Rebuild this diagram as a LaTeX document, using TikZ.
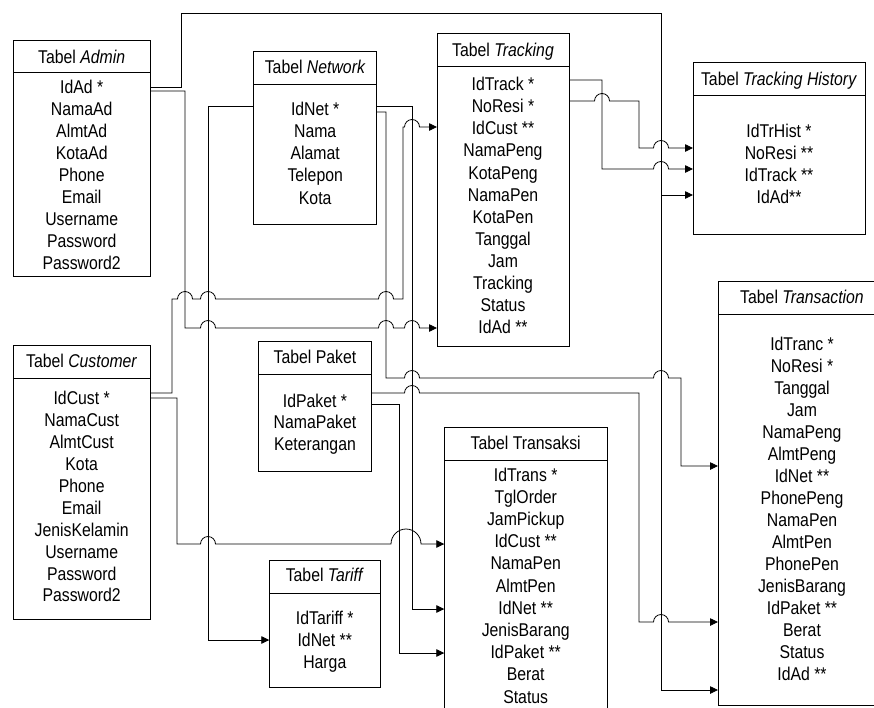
\documentclass[tikz,border=0pt]{standalone}
\usepackage{fontspec}
\setmainfont{Liberation Sans}
\usetikzlibrary{arrows.meta}
\newcommand{\tx}[1]{\scalebox{1}[1.17]{#1}}
\newcommand{\tblrows}[5]{\foreach \t [count=\i from 0] in {#5} {\node[row] (#1-\i) at (#2,{#3+#4*\i}) {\tx{\t}};}}
\newcommand{\hop}[2]{-- ({#1-7.5},#2) arc[start angle=180,end angle=0,radius=7.5pt]}
\begin{document}
\begin{tikzpicture}[x=1pt,y=-1pt,
  tbox/.style={draw, line width=0.9pt, inner sep=0pt, outer sep=0pt, anchor=north west},
  row/.style={anchor=base, inner sep=0pt, font=\fontsize{15.8}{19}\selectfont},
  conn/.style={line width=0.8pt},
  arr/.style={conn, -{Triangle[length=8pt,width=7.5pt]}}]
\useasboundingbox (0,0) rectangle (874,707);
\clip (0,0) rectangle (874,707);

% ---------- tables ----------
% Admin
\node[tbox, minimum width=136.7pt, minimum height=236.7pt] (adm) at (13.3,40) {};
\draw[line width=0.9pt] (adm.west |- 0,72.7) -- (adm.east |- 0,72.7);
\node[row] (admT) at (81.7,63) {\tx{Tabel \textit{Admin}}};
\tblrows{adm}{81.7}{93}{22}{IdAd *,NamaAd,AlmtAd,KotaAd,Phone,Email,Username,Password,Password2}

% Network
\node[tbox, minimum width=123pt, minimum height=173.3pt] (net) at (253.7,51) {};
\draw[line width=0.9pt] (net.west |- 0,84) -- (net.east |- 0,84);
\node[row] (netT) at (315.2,73) {\tx{Tabel \textit{Network}}};
\tblrows{net}{315.2}{115.6}{22.1}{IdNet *,Nama,Alamat,Telepon,Kota}

% Tracking
\node[tbox, minimum width=132pt, minimum height=312.7pt] (trk) at (437,33.3) {};
\draw[line width=0.9pt] (trk.west |- 0,66.3) -- (trk.east |- 0,66.3);
\node[row] (trkT) at (503,56.3) {\tx{Tabel \textit{Tracking}}};
\tblrows{trk}{503}{90.6}{22.1}{IdTrack *,NoResi *,IdCust **,NamaPeng,KotaPeng,NamaPen,KotaPen,Tanggal,Jam,Tracking,Status,IdAd **}

% Tracking History
\node[tbox, minimum width=172pt, minimum height=171.7pt] (th) at (693,62.3) {};
\draw[line width=0.9pt] (th.west |- 0,95.7) -- (th.east |- 0,95.7);
\node[row] (thT) at (779,85.3) {\tx{Tabel \textit{Tracking History}}};
\tblrows{th}{779}{137}{22.2}{IdTrHist *,NoResi **,IdTrack **,IdAd**}

% Transaction
\node[tbox, minimum width=168pt, minimum height=424.5pt] (tn) at (718,281) {};
\draw[line width=0.9pt] (tn.west |- 0,314) -- (tn.east |- 0,314);
\node[row] (tnT) at (802,303) {\tx{Tabel \textit{Transaction}}};
\tblrows{tn}{802}{350.3}{22.02}{IdTranc *,NoResi *,Tanggal,Jam,NamaPeng,AlmtPeng,IdNet **,PhonePeng,NamaPen,AlmtPen,PhonePen,JenisBarang,IdPaket **,Berat,Status,IdAd **}

% Customer
\node[tbox, minimum width=136.7pt, minimum height=273.7pt] (cus) at (13.3,345.3) {};
\draw[line width=0.9pt] (cus.west |- 0,378.3) -- (cus.east |- 0,378.3);
\node[row] (cusT) at (81.7,367) {\tx{Tabel \textit{Customer}}};
\tblrows{cus}{81.7}{404.6}{21.93}{IdCust *,NamaCust,AlmtCust,Kota,Phone,Email,JenisKelamin,Username,Password,Password2}

% Paket
\node[tbox, minimum width=113.4pt, minimum height=130.7pt] (pak) at (258.3,341) {};
\draw[line width=0.9pt] (pak.west |- 0,374.3) -- (pak.east |- 0,374.3);
\node[row] (pakT) at (315,363.6) {\tx{Tabel Paket}};
\tblrows{pak}{315}{407}{21.8}{IdPaket *,NamaPaket,Keterangan}

% Tariff
\node[tbox, minimum width=111pt, minimum height=127.3pt] (trf) at (269.3,560) {};
\draw[line width=0.9pt] (trf.west |- 0,593.3) -- (trf.east |- 0,593.3);
\node[row] (trfT) at (324.8,581.6) {\tx{Tabel \textit{Tariff}}};
\tblrows{trf}{324.8}{624.6}{21.7}{IdTariff *,IdNet **,Harga}

% Transaksi
\node[tbox, minimum width=162.7pt, minimum height=300pt] (tsk) at (444.3,427) {};
\draw[line width=0.9pt] (tsk.west |- 0,460.3) -- (tsk.east |- 0,460.3);
\node[row] (tskT) at (525.7,449) {\tx{Tabel Transaksi}};
\tblrows{tsk}{525.7}{481.3}{22.17}{IdTrans *,TglOrder,JamPickup,IdCust **,NamaPen,AlmtPen,IdNet **,JenisBarang,IdPaket **,Berat,Status}

% ---------- connectors ----------
\coordinate (jAd) at (661,195);
% Admin IdAd -> Tracking History IdAd, Transaction IdAd
\draw[arr] (adm.east |- 0,87) -- (181,87) -- (181,13) -- (661,13) -- (jAd) -- (th.west |- jAd);
\draw[arr] (jAd) -- (661,690) -- (tn.west |- 0,690);
% Admin IdAd -> Tracking IdAd
\draw[arr] (adm.east |- 0,91) -- (185,91) -- (185,328) \hop{208}{328} \hop{386}{328} \hop{412}{328} -- (trk.west |- 0,328);
% Customer IdCust -> Tracking IdCust
\draw[arr] (cus.east |- 0,393) -- (172,393) -- (172,299) \hop{185}{299} \hop{208}{299} \hop{386}{299} -- (403,299) -- (403,127) \hop{412}{127} -- (trk.west |- 0,127);
% Network IdNet -> Transaksi IdNet
\draw[arr] (net.east |- 0,106) -- (412,106) -- (412,609) -- (tsk.west |- 0,609);
% Network IdNet -> Transaction IdNet
\draw[arr] (net.east |- 0,112) -- (386,112) -- (386,378) \hop{412}{378} \hop{661}{378} -- (681,378) -- (681,466) -- (tn.west |- 0,466);
% Network IdNet -> Tariff IdNet
\draw[arr] (net.west |- 0,106) -- (208,106) -- (208,640) -- (trf.west |- 0,640);
% Paket IdPaket -> Transaction IdPaket
\draw[arr] (pak.east |- 0,393) \hop{412}{393} -- (639,393) -- (639,622) \hop{661}{622} -- (tn.west |- 0,622);
% Paket IdPaket -> Transaksi IdPaket
\draw[arr] (pak.east |- 0,404) -- (399,404) -- (399,653) -- (tsk.west |- 0,653);
% Customer IdCust -> Transaksi IdCust
\draw[arr] (cus.east |- 0,398) -- (177,398) -- (177,544) \hop{208}{544} -- (391,544) arc[start angle=180,end angle=0,radius=15pt] -- (tsk.west |- 0,544);
% Tracking IdTrack -> Tracking History IdTrack
\draw[arr] (trk.east |- 0,80) -- (602,80) -- (602,169) \hop{661}{169} -- (th.west |- 0,169);
% Tracking NoResi -> Tracking History NoResi
\draw[arr] (trk.east |- 0,101) \hop{602}{101} -- (639,101) -- (639,148) \hop{661}{148} -- (th.west |- 0,148);
\end{tikzpicture}
\end{document}
